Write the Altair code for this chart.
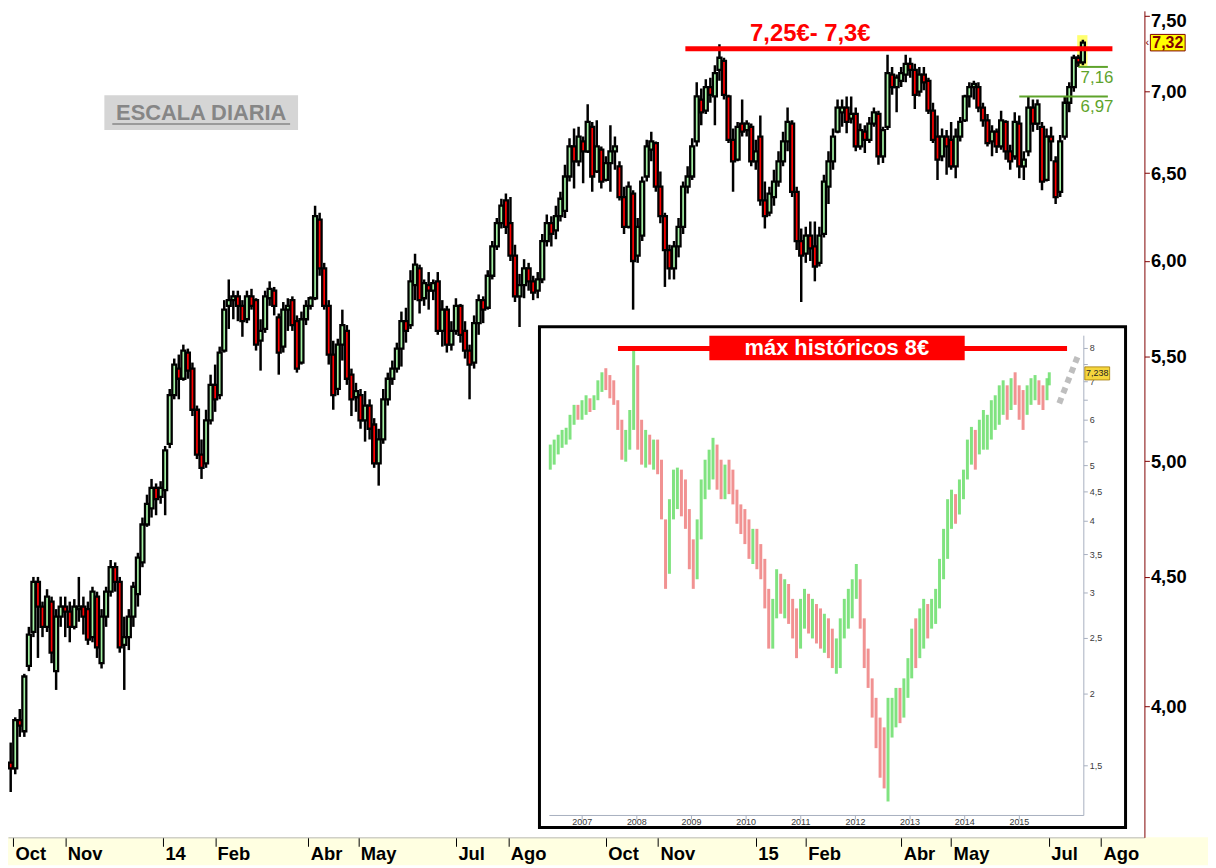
import altair as alt
import numpy as np
import pandas as pd

FONT = "Liberation Sans"
W, H = 1144, 832          # plot area; the page margin puts its corner at (8, 8)
GREEN_BODY = "#A4F2A4"
RED_BODY = "#FF0000"


def px(x):
    return x - 8


def py(y):
    return y - 8


# ---------------- main chart: candles, one every second session ----------------
open_ = [3.80, 3.78, 3.95, 3.91, 4.15, 4.28, 4.48, 4.38, 4.30, 4.40,
         4.13, 4.34, 4.38, 4.36, 4.30, 4.37, 4.38, 4.37, 4.26, 4.42,
         4.16, 4.34, 4.44, 4.54, 4.48, 4.23, 4.26, 4.34, 4.43, 4.56,
         4.72, 4.79, 4.88, 4.84, 4.87, 5.08, 5.31, 5.44, 5.39, 5.52,
         5.44, 5.24, 5.03, 4.99, 5.19, 5.36, 5.31, 5.53, 5.76, 5.79,
         5.81, 5.76, 5.69, 5.81, 5.79, 5.58, 5.64, 5.80, 5.84, 5.70,
         5.55, 5.74, 5.79, 5.68, 5.47, 5.69, 5.76, 5.80, 6.23, 5.96,
         5.76, 5.51, 5.34, 5.56, 5.63, 5.41, 5.30, 5.31, 5.19, 5.26,
         5.17, 4.99, 5.10, 5.29, 5.39, 5.44, 5.54, 5.68, 5.66, 5.87,
         5.96, 5.80, 5.87, 5.84, 5.89, 5.63, 5.74, 5.56, 5.63, 5.76,
         5.63, 5.53, 5.47, 5.67, 5.79, 5.75, 5.92, 6.08, 6.21, 6.34,
         6.21, 6.03, 5.81, 5.87, 5.96, 5.89, 5.84, 5.90, 6.11, 6.21,
         6.17, 6.25, 6.28, 6.48, 6.66, 6.57, 6.69, 6.63, 6.78, 6.51,
         6.64, 6.46, 6.56, 6.63, 6.54, 6.36, 6.19, 6.38, 6.03, 6.14,
         6.48, 6.64, 6.68, 6.42, 6.25, 6.06, 5.96, 6.08, 6.19, 6.42,
         6.48, 6.69, 6.95, 6.88, 7.03, 6.97, 7.14, 7.20, 6.97, 6.70,
         6.58, 6.80, 6.76, 6.78, 6.57, 6.72, 6.34, 6.27, 6.36, 6.45,
         6.57, 6.69, 6.80, 6.39, 6.11, 6.04, 6.14, 6.08, 5.99, 6.15,
         6.42, 6.57, 6.75, 6.87, 6.90, 6.83, 6.86, 6.66, 6.75, 6.70,
         6.80, 6.86, 6.60, 6.78, 7.11, 7.03, 7.07, 7.11, 7.18, 7.14,
         7.00, 7.11, 7.07, 6.88, 6.72, 6.60, 6.72, 6.70, 6.54, 6.72,
         6.82, 6.97, 7.03, 7.03, 6.90, 6.82, 6.69, 6.75, 6.66, 6.81,
         6.63, 6.60, 6.80, 6.54, 6.63, 6.90, 6.80, 6.78, 6.46, 6.72,
         6.57, 6.39, 6.72, 6.93, 7.03, 7.22, 7.19]
high_ = [3.87, 3.96, 3.99, 4.12, 4.30, 4.50, 4.50, 4.40, 4.45, 4.42,
         4.37, 4.42, 4.42, 4.40, 4.41, 4.50, 4.42, 4.40, 4.46, 4.44,
         4.37, 4.46, 4.57, 4.56, 4.50, 4.34, 4.37, 4.48, 4.60, 4.75,
         4.85, 4.92, 4.90, 4.91, 5.07, 5.34, 5.49, 5.51, 5.56, 5.54,
         5.47, 5.26, 5.10, 5.24, 5.41, 5.46, 5.55, 5.79, 5.90, 5.84,
         5.84, 5.79, 5.84, 5.85, 5.80, 5.69, 5.84, 5.89, 5.86, 5.72,
         5.78, 5.80, 5.81, 5.71, 5.73, 5.79, 5.81, 6.31, 6.27, 5.99,
         5.79, 5.58, 5.59, 5.74, 5.66, 5.44, 5.37, 5.34, 5.33, 5.29,
         5.20, 5.15, 5.34, 5.42, 5.48, 5.57, 5.73, 5.75, 5.95, 6.04,
         5.98, 5.90, 5.94, 5.90, 5.94, 5.79, 5.76, 5.68, 5.80, 5.77,
         5.68, 5.56, 5.71, 5.82, 5.81, 5.95, 6.11, 6.24, 6.35, 6.38,
         6.36, 6.09, 5.93, 6.01, 5.99, 5.92, 5.94, 6.15, 6.26, 6.25,
         6.31, 6.39, 6.55, 6.71, 6.77, 6.78, 6.72, 6.92, 6.81, 6.82,
         6.66, 6.60, 6.79, 6.72, 6.57, 6.42, 6.45, 6.40, 6.24, 6.48,
         6.70, 6.75, 6.69, 6.51, 6.27, 6.09, 6.11, 6.24, 6.45, 6.54,
         6.71, 7.06, 7.02, 7.08, 7.09, 7.17, 7.31, 7.22, 6.98, 6.77,
         6.81, 6.95, 6.82, 6.80, 6.70, 6.85, 6.45, 6.42, 6.52, 6.63,
         6.75, 6.90, 6.82, 6.42, 6.18, 6.19, 6.22, 6.22, 6.19, 6.49,
         6.63, 6.77, 6.95, 6.95, 6.97, 6.97, 6.90, 6.80, 6.79, 6.84,
         6.90, 6.88, 6.78, 7.24, 7.16, 7.11, 7.16, 7.24, 7.22, 7.18,
         7.16, 7.16, 7.09, 6.93, 6.85, 6.77, 6.76, 6.81, 6.77, 6.84,
         6.98, 7.06, 7.07, 7.06, 6.93, 6.86, 6.79, 6.77, 6.88, 6.82,
         6.67, 6.87, 6.85, 6.63, 6.97, 6.95, 6.95, 6.81, 6.77, 6.78,
         6.60, 6.73, 6.97, 7.06, 7.24, 7.24, 7.34]
low_ = [3.70, 3.76, 3.89, 3.89, 4.13, 4.26, 4.18, 4.26, 4.28, 4.16,
        4.06, 4.30, 4.26, 4.24, 4.29, 4.32, 4.27, 4.23, 4.24, 4.18,
        4.14, 4.30, 4.42, 4.44, 4.20, 4.06, 4.21, 4.30, 4.38, 4.54,
        4.71, 4.75, 4.76, 4.81, 4.76, 5.06, 5.29, 5.29, 5.38, 5.39,
        5.21, 5.01, 4.92, 4.97, 5.17, 5.23, 5.29, 5.52, 5.64, 5.69,
        5.68, 5.60, 5.67, 5.74, 5.53, 5.43, 5.62, 5.76, 5.71, 5.41,
        5.52, 5.63, 5.63, 5.42, 5.46, 5.66, 5.74, 5.79, 5.92, 5.74,
        5.46, 5.24, 5.31, 5.48, 5.36, 5.21, 5.23, 5.15, 5.09, 5.10,
        4.97, 4.89, 5.08, 5.26, 5.36, 5.42, 5.45, 5.57, 5.64, 5.79,
        5.72, 5.76, 5.74, 5.79, 5.61, 5.55, 5.52, 5.53, 5.61, 5.57,
        5.49, 5.29, 5.44, 5.61, 5.67, 5.74, 5.90, 6.06, 6.18, 6.15,
        6.00, 5.78, 5.65, 5.80, 5.84, 5.79, 5.80, 5.88, 6.08, 6.08,
        6.12, 6.22, 6.24, 6.45, 6.41, 6.54, 6.44, 6.62, 6.39, 6.50,
        6.41, 6.45, 6.39, 6.52, 6.34, 6.15, 6.18, 5.74, 5.99, 6.11,
        6.45, 6.57, 6.39, 6.21, 5.86, 5.90, 5.90, 6.02, 6.15, 6.38,
        6.46, 6.66, 6.79, 6.86, 6.93, 6.79, 7.07, 6.95, 6.68, 6.39,
        6.57, 6.72, 6.72, 6.54, 6.52, 6.31, 6.18, 6.25, 6.31, 6.42,
        6.54, 6.63, 6.36, 6.06, 5.78, 5.99, 6.00, 5.89, 5.97, 6.13,
        6.32, 6.52, 6.74, 6.78, 6.74, 6.80, 6.63, 6.64, 6.62, 6.68,
        6.78, 6.55, 6.56, 6.76, 6.98, 6.87, 7.03, 7.06, 7.09, 6.89,
        6.97, 7.01, 6.86, 6.68, 6.46, 6.57, 6.49, 6.52, 6.47, 6.69,
        6.81, 6.90, 6.95, 6.87, 6.78, 6.66, 6.60, 6.62, 6.64, 6.58,
        6.52, 6.58, 6.47, 6.46, 6.60, 6.75, 6.76, 6.40, 6.45, 6.57,
        6.32, 6.36, 6.70, 6.87, 7.00, 7.16, 7.17]
close_ = [3.78, 3.95, 3.93, 4.11, 4.27, 4.48, 4.38, 4.30, 4.42, 4.20,
          4.34, 4.38, 4.36, 4.30, 4.38, 4.38, 4.34, 4.25, 4.44, 4.22,
          4.34, 4.44, 4.54, 4.48, 4.22, 4.26, 4.34, 4.46, 4.58, 4.72,
          4.81, 4.88, 4.83, 4.88, 5.05, 5.31, 5.46, 5.39, 5.53, 5.43,
          5.24, 5.03, 4.97, 5.19, 5.36, 5.29, 5.52, 5.74, 5.79, 5.81,
          5.76, 5.68, 5.81, 5.76, 5.56, 5.63, 5.81, 5.85, 5.76, 5.52,
          5.74, 5.76, 5.66, 5.44, 5.69, 5.76, 5.80, 6.25, 5.96, 5.76,
          5.51, 5.31, 5.56, 5.66, 5.39, 5.29, 5.33, 5.19, 5.26, 5.15,
          4.99, 5.10, 5.29, 5.39, 5.44, 5.54, 5.68, 5.63, 5.89, 5.98,
          5.79, 5.88, 5.84, 5.88, 5.63, 5.74, 5.56, 5.63, 5.76, 5.61,
          5.53, 5.46, 5.67, 5.79, 5.74, 5.92, 6.08, 6.21, 6.31, 6.19,
          6.03, 5.81, 5.87, 5.96, 5.89, 5.83, 5.90, 6.11, 6.21, 6.15,
          6.25, 6.35, 6.48, 6.66, 6.57, 6.72, 6.63, 6.81, 6.48, 6.66,
          6.45, 6.56, 6.63, 6.66, 6.36, 6.19, 6.42, 6.00, 6.19, 6.45,
          6.66, 6.69, 6.42, 6.25, 6.06, 5.96, 6.08, 6.19, 6.42, 6.48,
          6.66, 6.97, 6.87, 7.03, 6.98, 7.12, 7.22, 6.98, 6.70, 6.57,
          6.78, 6.75, 6.80, 6.57, 6.63, 6.34, 6.25, 6.38, 6.45, 6.57,
          6.69, 6.81, 6.39, 6.11, 6.03, 6.14, 6.07, 5.97, 6.14, 6.45,
          6.57, 6.72, 6.90, 6.90, 6.81, 6.86, 6.66, 6.76, 6.70, 6.80,
          6.87, 6.60, 6.76, 7.12, 7.03, 7.09, 7.12, 7.18, 7.14, 6.98,
          7.11, 7.06, 6.88, 6.70, 6.58, 6.72, 6.66, 6.54, 6.72, 6.81,
          6.97, 7.03, 7.05, 6.90, 6.82, 6.68, 6.75, 6.66, 6.82, 6.63,
          6.57, 6.81, 6.54, 6.58, 6.90, 6.80, 6.92, 6.45, 6.72, 6.69,
          6.36, 6.69, 6.93, 7.03, 7.22, 7.19, 7.32]

calendar = pd.bdate_range("2013-09-30", "2015-08-31")


def pos(d):
    return int(calendar.get_loc(pd.Timestamp(d)))


candle_dates = [d.strftime("%Y-%m-%d") for d in calendar[0:2 * len(close_):2]]
candles = pd.DataFrame({
    "date": candle_dates,
    "pos": [pos(d) for d in candle_dates],
    "open": open_, "high": high_, "low": low_, "close": close_,
})
candles["dir"] = np.where(candles["close"] >= candles["open"], "up", "down")

month_dates = ["2013-10-01", "2013-11-01", "2014-01-01", "2014-02-03", "2014-04-01",
               "2014-05-01", "2014-07-01", "2014-08-01", "2014-10-01", "2014-11-03",
               "2015-01-01", "2015-02-02", "2015-04-01", "2015-05-01", "2015-07-01",
               "2015-08-03"]
month_labels = ["Oct", "Nov", "14", "Feb", "Abr", "May", "Jul", "Ago",
                "Oct", "Nov", "15", "Feb", "Abr", "May", "Jul", "Ago"]
month_pos = [pos(d) for d in month_dates]
price_ticks = [4.0, 4.5, 5.0, 5.5, 6.0, 6.5, 7.0, 7.5]

# annotations of the main chart
resistance = pd.DataFrame({"x0": [pos("2014-11-19")], "x1": [pos("2015-08-10")], "v": [7.28]})
resistance_text = pd.DataFrame({"x": [pos("2015-02-04")], "v": [7.38], "t": ["7,25€- 7,3€"]})
support_values = [7.16, 6.97]
support_from = ["2015-07-20", "2015-06-12"]
support_labels = ["7,16", "6,97"]
supports = pd.DataFrame({
    "x0": [pos(d) for d in support_from],
    "x1": [pos("2015-08-06")] * 2,
    "xl": [pos("2015-07-21")] * 2,
    "v": support_values, "t": support_labels,
})
highlight = pd.DataFrame({"x0": [pos("2015-07-20") - 0.5], "x1": [pos("2015-07-23") + 1.0],
                          "v0": [7.16], "v1": [7.37]})
last_price = pd.DataFrame({"v": [7.32], "v0": [7.265], "v1": [7.375], "t": ["7,32"]})

# ---------------- inset: long-term history ----------------
inset_high = [5.44, 5.55, 5.66, 5.77, 5.82, 6.13, 6.38, 6.38, 6.50, 6.63,
              6.55, 6.63, 7.04, 7.27, 7.39, 7.19, 7.04, 6.50, 6.01, 5.77,
              6.25, 7.99, 7.48, 6.01, 5.77, 5.66, 5.55, 5.55, 5.12, 4.03,
              4.37, 4.92, 4.96, 4.92, 4.73, 4.20, 3.72, 4.03, 4.73, 5.12,
              5.33, 5.59, 5.44, 5.12, 5.02, 5.12, 4.92, 4.54, 4.28, 4.20,
              4.03, 3.88, 3.88, 3.65, 3.44, 3.05, 2.93, 3.30, 3.24, 3.17,
              3.11, 2.93, 2.82, 2.93, 3.05, 2.99, 2.93, 2.87, 2.82, 2.76,
              2.71, 2.60, 2.50, 2.71, 2.93, 3.05, 3.17, 3.37, 3.17, 2.71,
              2.40, 2.13, 1.97, 1.82, 1.75, 1.97, 1.97, 2.05, 2.05, 2.13,
              2.31, 2.60, 2.71, 2.82, 2.93, 2.87, 2.93, 3.05, 3.44, 3.88,
              4.37, 4.54, 4.46, 4.73, 4.92, 5.55, 5.84, 5.77, 6.01, 6.25,
              6.13, 6.50, 6.63, 6.90, 7.04, 6.90, 7.10, 7.27, 6.90, 6.77,
              6.90, 7.10, 7.19, 7.04, 6.90, 7.10, 7.27]
inset_low = [4.92, 5.02, 5.23, 5.37, 5.44, 5.55, 5.89, 6.01, 6.01, 6.13,
             6.20, 6.25, 6.50, 6.72, 6.77, 6.55, 6.38, 5.77, 5.12, 5.08,
             5.33, 5.77, 5.33, 5.02, 4.96, 5.02, 4.92, 4.83, 4.03, 3.05,
             3.24, 4.03, 4.20, 4.08, 3.88, 3.30, 3.05, 3.17, 3.72, 4.37,
             4.54, 4.73, 4.54, 4.37, 4.37, 4.46, 4.28, 3.96, 3.80, 3.65,
             3.44, 3.37, 3.30, 3.17, 2.82, 2.40, 2.40, 2.71, 2.76, 2.71,
             2.65, 2.50, 2.31, 2.40, 2.60, 2.55, 2.50, 2.45, 2.40, 2.36,
             2.31, 2.22, 2.17, 2.22, 2.50, 2.60, 2.71, 2.93, 2.60, 2.22,
             2.05, 1.82, 1.61, 1.43, 1.37, 1.30, 1.68, 1.75, 1.78, 1.82,
             1.97, 2.13, 2.22, 2.31, 2.40, 2.50, 2.60, 2.65, 2.82, 3.17,
             3.44, 3.88, 3.96, 4.11, 4.37, 4.73, 5.02, 4.92, 5.23, 5.33,
             5.33, 5.55, 5.77, 5.89, 6.13, 6.01, 6.25, 6.38, 6.01, 5.77,
             6.13, 6.38, 6.50, 6.38, 6.25, 6.50, 6.90]
inset_close = [5.33, 5.44, 5.44, 5.66, 5.72, 6.01, 6.25, 6.20, 6.38, 6.50,
               6.38, 6.55, 6.90, 7.10, 6.90, 6.77, 6.50, 5.89, 5.33, 5.55,
               6.01, 7.19, 5.77, 5.33, 5.55, 5.23, 5.33, 5.02, 4.20, 3.24,
               4.20, 4.54, 4.73, 4.37, 4.03, 3.51, 3.44, 3.88, 4.54, 4.92,
               5.12, 5.23, 4.92, 4.73, 4.83, 4.64, 4.46, 4.11, 4.03, 3.80,
               3.65, 3.72, 3.51, 3.30, 2.93, 2.50, 2.82, 3.11, 2.93, 2.99,
               2.82, 2.60, 2.45, 2.76, 2.93, 2.71, 2.76, 2.65, 2.50, 2.60,
               2.40, 2.31, 2.36, 2.60, 2.82, 2.93, 3.05, 3.11, 2.71, 2.31,
               2.13, 1.93, 1.68, 1.55, 1.46, 1.82, 1.89, 1.97, 1.93, 2.05,
               2.22, 2.50, 2.40, 2.65, 2.76, 2.71, 2.82, 2.93, 3.30, 3.65,
               4.20, 4.37, 4.28, 4.54, 4.73, 5.33, 5.66, 5.44, 5.77, 5.89,
               6.01, 6.25, 6.50, 6.63, 6.77, 6.50, 6.90, 6.77, 6.38, 6.25,
               6.63, 6.90, 7.04, 6.63, 6.50, 6.98, 7.24]
inset_dates = list(pd.date_range("2006-06-02", "2015-07-05", periods=len(inset_close) - 1)) + [pd.Timestamp("2015-07-20")]
inset = pd.DataFrame({"date": inset_dates, "high": inset_high, "low": inset_low, "close": inset_close})
inset["t"] = [d.year + (d.dayofyear - 1) / 365.25 for d in inset["date"]]
inset["date"] = inset["date"].dt.strftime("%Y-%m-%d")
inset["dir"] = np.where(inset["close"] >= inset["close"].shift(1).fillna(0), "up", "down")

inset_price_ticks = [8, 7.5, 7, 6.5, 6, 5.5, 5, 4.5, 4, 3.5, 3, 2.5, 2, 1.5]
inset_price_labels = ["8", "", "7", "", "6", "", "5", "4,5", "4", "3,5", "3", "2,5", "2", "1,5"]
inset_years = list(range(2007, 2016))
inset_max = pd.DataFrame({"t0": [2007.655], "t1": [2015.873], "v": [8.0]})
inset_box = pd.DataFrame({"t0": [2009.327], "t1": [2014.0], "v0": [7.63], "v1": [8.42],
                          "tc": [2011.66], "v": [8.02], "txt": ["máx históricos 8€"]})
inset_projection = pd.DataFrame({"t": [2015.73, 2016.08], "v": [6.42, 7.80]})
inset_last = pd.DataFrame({"v": [7.238], "v0": [7.05], "v1": [7.43], "txt": ["7,238"]})

# ---------------- scales / axes ----------------
one = pd.DataFrame({"k": [0]})
xs = alt.Scale(domain=[1.0, 496.9], nice=False, zero=False)
ys = alt.Scale(type="log", domain=[3.55, 7.535], nice=False)
x_expr = " : ".join(f"datum.value == {p} ? '{l}'" for p, l in zip(month_pos, month_labels)) + " : ''"
xaxis = alt.Axis(values=month_pos, labelExpr=x_expr, orient="bottom", labelAlign="left",
                 labelOffset=2, labelBaseline="top", labelPadding=-2, labelFontSize=18.5,
                 labelFontWeight="bold", labelFont=FONT, labelColor="black",
                 tickColor="black", tickSize=9, tickWidth=1, domain=True,
                 domainColor="#B8B8B8", grid=False, title=None, zindex=1,
                 labelOverlap=False, labelFlush=False)
yaxis = alt.Axis(values=price_ticks, orient="right",
                 labelExpr="replace(format(datum.value, '.2f'), '.', ',')",
                 labelFontSize=18.5, labelFontWeight="bold", labelFont=FONT,
                 labelColor="black", tickColor="#800000", tickSize=5, tickWidth=1,
                 domainColor="#800000", domainWidth=1, labelPadding=1, grid=False,
                 title=None, zindex=1, labelBaseline="middle", labelOverlap=False,
                 labelOffset={"condition": {"test": "datum.value >= 7.5", "value": 4.5},
                              "value": 0})


def X(f):
    return alt.X(f, type="quantitative", scale=xs, axis=xaxis)


def Y(f):
    return alt.Y(f, type="quantitative", scale=ys, axis=yaxis)


band = alt.Chart(one).mark_rect(fill="#FFFFE1").encode(
    x=alt.value(0), x2=alt.value(W + 64), y=alt.value(H), y2=alt.value(H + 28))

escala_box = alt.Chart(one).mark_rect(fill="#D5D5D5").encode(
    x=alt.value(px(105)), x2=alt.value(px(300)), y=alt.value(py(93)), y2=alt.value(py(128)))
escala_text = alt.Chart(one).mark_text(text="ESCALA DIARIA", font=FONT, fontSize=22,
                                       fontWeight="bold", color="#868686").encode(
    x=alt.value(px(202.5)), y=alt.value(py(110.5)))
escala_line = alt.Chart(one).mark_rule(color="#868686", strokeWidth=1.5).encode(
    x=alt.value(px(113)), x2=alt.value(px(292)), y=alt.value(py(122)))

hl = alt.Chart(highlight).mark_rect(fill="#FFFF55", opacity=0.85).encode(
    x=X("x0"), x2="x1", y=Y("v0"), y2="v1")

wicks = alt.Chart(candles).mark_rule(color="black", strokeWidth=2.5, clip=True).encode(
    x=X("pos"), y=Y("low"), y2="high")
bodies = alt.Chart(candles).mark_bar(width=4, stroke="black", strokeWidth=2.3, clip=True).encode(
    x=X("pos"), y=Y("open"), y2="close",
    fill=alt.when(alt.datum.dir == "up").then(alt.value(GREEN_BODY)).otherwise(alt.value(RED_BODY)))

res_line = alt.Chart(resistance).mark_rule(color="#FF0000", strokeWidth=5).encode(
    x=X("x0"), x2="x1", y=Y("v"))
res_text = alt.Chart(resistance_text).mark_text(font=FONT, fontSize=24, fontWeight="bold",
                                                color="#FF0000").encode(
    x=X("x"), y=Y("v"), text="t")

sup_lines = alt.Chart(supports).mark_rule(color="#5EA32B", strokeWidth=2).encode(
    x=X("x0"), x2="x1", y=Y("v"))
sup_text = alt.Chart(supports).mark_text(font=FONT, fontSize=17, color="#5EA32B",
                                         align="left", baseline="top", dy=3).encode(
    x=X("xl"), y=Y("v"), text="t")

lp_box = alt.Chart(last_price).mark_rect(fill="#FFFF00", stroke="#800000", strokeWidth=1).encode(
    x=alt.value(W + 6), x2=alt.value(W + 41), y=Y("v0"), y2="v1")
lp_text = alt.Chart(last_price).mark_text(font=FONT, fontSize=16, fontWeight="bold",
                                          color="#800000", align="left").encode(
    x=alt.value(W + 8), y=Y("v"), text="t")
lp_arrow = alt.Chart(last_price).mark_text(text="‹", font=FONT, fontSize=11,
                                           color="#800000", align="left").encode(
    x=alt.value(W + 1), y=Y("v"))

main = alt.layer(band, escala_box, escala_text, escala_line, hl, wicks, bodies,
                 res_line, res_text, sup_lines, sup_text, lp_box, lp_text, lp_arrow)

# ---------------- inset layers ----------------
ixs = alt.Scale(domain=[2006.4, 2016.18], range=[px(553), px(1091)], nice=False, zero=False)
iys = alt.Scale(type="log", domain=[1.229, 8.42], range=[py(818), py(335)], nice=False)


def IX(f):
    return alt.X(f, type="quantitative", scale=ixs, axis=None)


def IY(f):
    return alt.Y(f, type="quantitative", scale=iys, axis=None)


frame = alt.Chart(one).mark_rect(fill="white", stroke="black", strokeWidth=3).encode(
    x=alt.value(px(543)), x2=alt.value(px(1133)), y=alt.value(py(326)), y2=alt.value(py(830)))
ax_v = alt.Chart(one).mark_rule(color="#A7AFBF", strokeWidth=1).encode(
    x=alt.value(px(1091)), y=alt.value(py(335)), y2=alt.value(py(818)))
ax_h = alt.Chart(one).mark_rule(color="#A7AFBF", strokeWidth=1).encode(
    x=alt.value(px(553)), x2=alt.value(px(1091)), y=alt.value(py(818)))

ptick_df = pd.DataFrame({"v": inset_price_ticks, "label": inset_price_labels})
pticks = alt.Chart(ptick_df).mark_rule(color="#A7AFBF").encode(
    x=alt.value(px(1091)), x2=alt.value(px(1095)), y=IY("v"))
plabels = alt.Chart(ptick_df).mark_text(font=FONT, fontSize=9, color="#3A3A3A", align="left").encode(
    x=alt.value(px(1097)), y=IY("v"), text="label")

year_df = pd.DataFrame({"yr": inset_years, "label": [str(y) for y in inset_years]})
yticks = alt.Chart(year_df).mark_rule(color="#A7AFBF").encode(
    x=IX("yr"), y=alt.value(py(818)), y2=alt.value(py(822)))
ylabels = alt.Chart(year_df).mark_text(font=FONT, fontSize=9, color="#3A3A3A").encode(
    x=IX("yr"), y=alt.value(py(825)), text="label")

ibars = alt.Chart(inset).mark_rule(strokeWidth=3, opacity=0.75).encode(
    x=IX("t"), y=IY("low"), y2="high",
    color=alt.when(alt.datum.dir == "up").then(alt.value("#55DA55")).otherwise(alt.value("#EC6E6E")))

iproj = alt.Chart(inset_projection).mark_line(color="#BEBEBE", strokeWidth=6,
                                              strokeDash=[6, 5], strokeCap="butt").encode(
    x=IX("t"), y=IY("v"))

imax = alt.Chart(inset_max).mark_rule(color="#FF0000", strokeWidth=5).encode(
    x=IX("t0"), x2="t1", y=IY("v"))
ibox = alt.Chart(inset_box).mark_rect(fill="#FF0000").encode(
    x=IX("t0"), x2="t1", y=IY("v0"), y2="v1")
ibox_text = alt.Chart(inset_box).mark_text(font=FONT, fontSize=22, fontWeight="bold",
                                           color="white").encode(
    x=IX("tc"), y=IY("v"), text="txt")

ilast_box = alt.Chart(inset_last).mark_rect(fill="#F5D63D", stroke="#A07800", strokeWidth=0.8).encode(
    x=alt.value(px(1092)), x2=alt.value(px(1117)), y=IY("v0"), y2="v1")
ilast_text = alt.Chart(inset_last).mark_text(font=FONT, fontSize=9, color="#222222").encode(
    x=alt.value(px(1104.5)), y=IY("v"), text="txt")

inset_chart = alt.layer(frame, ax_v, ax_h, pticks, plabels, yticks, ylabels, ibars,
                        iproj, imax, ibox, ibox_text, ilast_box, ilast_text)

chart = alt.layer(main, inset_chart).resolve_scale(
    x="independent", y="independent"
).properties(
    width=W, height=H,
    autosize=alt.AutoSizeParams(type="none"),
    padding={"left": 0, "top": 0, "right": 64, "bottom": 28},
    background="white"
).configure_view(stroke=None)

chart.save("out.html", embed_options={"renderer": "svg", "actions": False})
